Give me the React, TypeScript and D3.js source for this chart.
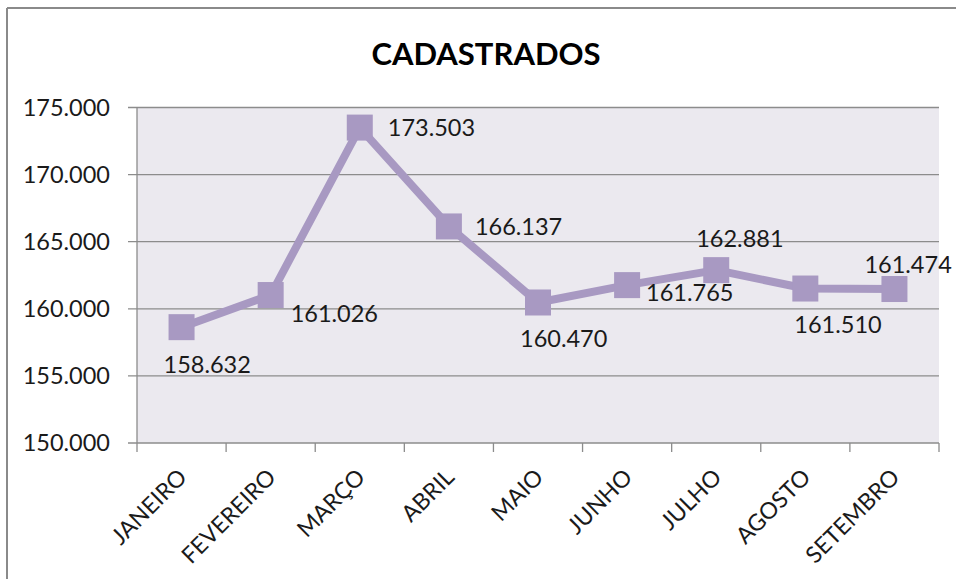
import React from "react";
import * as d3 from "d3";

const categories = ["JANEIRO", "FEVEREIRO", "MARÇO", "ABRIL", "MAIO", "JUNHO", "JULHO", "AGOSTO", "SETEMBRO"];
const values = [158632, 161026, 173503, 166137, 160470, 161765, 162881, 161510, 161474];
const valueLabels = ["158.632", "161.026", "173.503", "166.137", "160.470", "161.765", "162.881", "161.510", "161.474"];
const yTicks = [150000, 155000, 160000, 165000, 170000, 175000];
const yTickLabels = ["150.000", "155.000", "160.000", "165.000", "170.000", "175.000"];
const title = "CADASTRADOS";

// label placement offsets (dx to text start, dy to baseline) relative to marker
const labelOffsets: [number, number][] = [
  [-18, 46], [20, 27], [28, 8], [26, 9], [-18, 45], [19, 16], [-20, -23], [-11, 44], [-30, -16],
];

const W = 956, H = 579;
const plot = { left: 137, right: 939, top: 107.5, bottom: 443 };
const FONT = "Lato, Carlito, 'Open Sans', sans-serif";
const LINE_COLOR = "#a899c2";

export default function App() {
  const x = d3.scaleBand<string>().domain(categories).range([plot.left, plot.right]);
  const y = d3.scaleLinear().domain([150000, 175000]).range([plot.bottom, plot.top]);
  const cx = (c: string) => (x(c) as number) + x.bandwidth() / 2;
  const line = d3.line<number>().x((_, i) => cx(categories[i])).y((v) => y(v));
  const bounds = [...categories.map((c) => x(c) as number), plot.right];
  const ms = 26;

  return (
    <svg width={W} height={H} style={{ position: "absolute", left: 0, top: 0, background: "#fff" }}>
      <rect x={0} y={0} width={W} height={H} fill="#fff" />
      <line x1={7} y1={8} x2={W} y2={8} stroke="#8a8a8a" strokeWidth={2} />
      <line x1={7} y1={8} x2={7} y2={H} stroke="#8a8a8a" strokeWidth={2} />
      <text x={486} y={65} textAnchor="middle" fontFamily={FONT} fontWeight={700} fontSize={31} fill="#000">
        {title}
      </text>
      <rect x={plot.left} y={plot.top} width={plot.right - plot.left} height={plot.bottom - plot.top} fill="#ebe9ef" />
      {yTicks.map((t, i) => (
        <g key={t}>
          <line x1={plot.left - 9} x2={plot.right} y1={y(t)} y2={y(t)} stroke="#8c8c8c" strokeWidth={1.3} />
          <text x={110} y={y(t)} dy="0.35em" textAnchor="end" fontFamily={FONT} fontSize={23.5} fill="#1a1a1a">
            {yTickLabels[i]}
          </text>
        </g>
      ))}
      <line x1={plot.left} x2={plot.left} y1={plot.top} y2={plot.bottom} stroke="#8c8c8c" strokeWidth={1.3} />
      {bounds.map((b, i) => (
        <line key={i} x1={b} x2={b} y1={plot.bottom} y2={plot.bottom + 9} stroke="#8c8c8c" strokeWidth={1.3} />
      ))}
      {categories.map((c) => (
        <text
          key={c}
          transform={`translate(${cx(c) + 1},${plot.bottom + 30}) rotate(-45)`}
          dy="0.35em"
          textAnchor="end"
          fontFamily={FONT}
          fontSize={23}
          fill="#1a1a1a"
        >
          {c}
        </text>
      ))}
      <path d={line(values) || ""} fill="none" stroke={LINE_COLOR} strokeWidth={8} strokeLinejoin="round" />
      {values.map((v, i) => (
        <rect key={i} x={cx(categories[i]) - ms / 2} y={y(v) - ms / 2} width={ms} height={ms} fill={LINE_COLOR} />
      ))}
      {values.map((v, i) => (
        <text
          key={i}
          x={cx(categories[i]) + labelOffsets[i][0]}
          y={y(v) + labelOffsets[i][1]}
          fontFamily={FONT}
          fontSize={23.5}
          fill="#1a1a1a"
        >
          {valueLabels[i]}
        </text>
      ))}
    </svg>
  );
}
